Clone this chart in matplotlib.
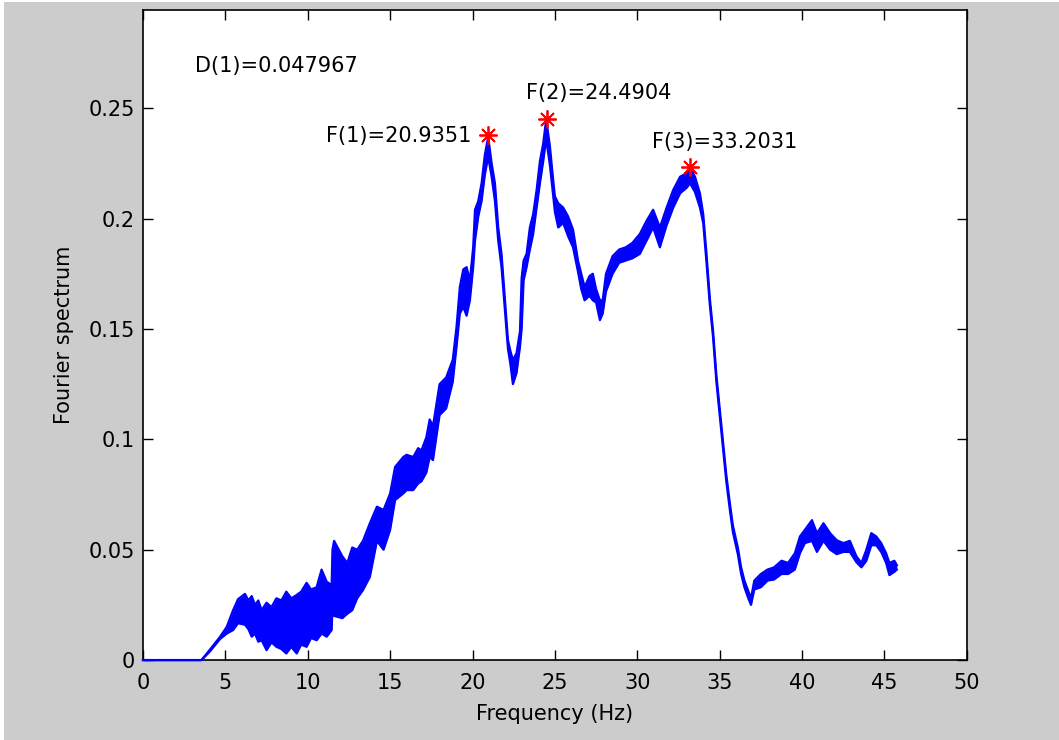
import numpy as np
import matplotlib.pyplot as plt
from matplotlib.patches import Rectangle

# spectrum: frequency, upper and lower edge of the noisy trace
freq = [0.0, 3.55, 4.07, 4.67, 5.08, 5.47, 5.77, 6.19, 6.4, 6.6, 6.8, 7.0, 7.2, 7.5, 7.8,
        8.1, 8.4, 8.7, 9.0, 9.33, 9.6, 9.93, 10.2, 10.54, 10.84, 11.15, 11.45, 11.5, 11.6,
        12.1, 12.4, 12.7, 13.0, 13.35, 13.77, 14.2, 14.6, 15.0, 15.3, 15.8, 16.0, 16.4,
        16.7, 16.9, 17.2, 17.4, 17.6, 18.0, 18.4, 18.8, 19.03, 19.23, 19.44, 19.64, 19.84,
        20.04, 20.15, 20.35, 20.55, 20.75, 20.95, 21.16, 21.36, 21.56, 21.76, 21.97, 22.15,
        22.3, 22.45, 22.67, 22.88, 22.98, 23.1, 23.28, 23.48, 23.68, 23.89, 24.09, 24.29,
        24.47, 24.7, 24.9, 25.0, 25.2, 25.5, 25.8, 26.1, 26.4, 26.6, 26.8, 27.1, 27.3, 27.5,
        27.73, 27.9, 28.1, 28.5, 28.9, 29.3, 29.7, 30.15, 30.56, 30.96, 31.37, 31.78, 32.18,
        32.6, 33.0, 33.2, 33.5, 33.8, 34.0, 34.2, 34.4, 34.6, 34.8, 35.0, 35.2, 35.4, 35.6,
        35.8, 36.1, 36.3, 36.5, 36.7, 36.9, 37.1, 37.5, 37.9, 38.3, 38.75, 39.15, 39.56,
        39.87, 40.17, 40.6, 40.9, 41.3, 41.7, 42.1, 42.5, 42.9, 43.3, 43.6, 43.9, 44.2,
        44.5, 44.8, 45.1, 45.3, 45.6, 45.75]
upper = [0, 0, 0.0048, 0.0105, 0.015, 0.0226, 0.0276, 0.030, 0.027, 0.029, 0.025, 0.027,
         0.0226, 0.026, 0.024, 0.028, 0.027, 0.031, 0.028, 0.0295, 0.031, 0.035, 0.032,
         0.033, 0.041, 0.0355, 0.034, 0.050, 0.054, 0.047, 0.044, 0.051, 0.050, 0.054,
         0.062, 0.0695, 0.068, 0.0755, 0.0875, 0.092, 0.093, 0.092, 0.096, 0.095, 0.101,
         0.109, 0.106, 0.125, 0.128, 0.136, 0.151, 0.169, 0.177, 0.178, 0.172, 0.187,
         0.204, 0.208, 0.216, 0.229, 0.237, 0.225, 0.216, 0.196, 0.184, 0.163, 0.145,
         0.140, 0.136, 0.139, 0.149, 0.173, 0.181, 0.184, 0.196, 0.202, 0.213, 0.226,
         0.234, 0.245, 0.2325, 0.217, 0.210, 0.207, 0.205, 0.201, 0.195, 0.181, 0.175,
         0.169, 0.174, 0.175, 0.168, 0.163, 0.163, 0.175, 0.183, 0.186, 0.187, 0.189,
         0.193, 0.199, 0.204, 0.196, 0.205, 0.213, 0.219, 0.2205, 0.223, 0.219, 0.2115,
         0.202, 0.184, 0.164, 0.149, 0.129, 0.114, 0.099, 0.084, 0.072, 0.061, 0.051,
         0.042, 0.036, 0.032, 0.028, 0.036, 0.039, 0.041, 0.042, 0.045, 0.044, 0.0484,
         0.056, 0.059, 0.0634, 0.0575, 0.062, 0.0575, 0.0543, 0.053, 0.054, 0.047, 0.044,
         0.050, 0.0575, 0.056, 0.053, 0.0484, 0.044, 0.045, 0.043]
lower = [0, 0, 0.0040, 0.0095, 0.012, 0.0136, 0.0167, 0.016, 0.014, 0.0106, 0.012, 0.0083,
         0.009, 0.0045, 0.008, 0.006, 0.005, 0.003, 0.006, 0.003, 0.007, 0.006, 0.010,
         0.009, 0.012, 0.0106, 0.0136, 0.024, 0.020, 0.019, 0.021, 0.0226, 0.028, 0.0317,
         0.0377, 0.054, 0.050, 0.059, 0.0725, 0.0755, 0.077, 0.077, 0.080, 0.081, 0.085,
         0.092, 0.0906, 0.111, 0.114, 0.126, 0.142, 0.157, 0.160, 0.156, 0.163, 0.178,
         0.190, 0.201, 0.208, 0.220, 0.228, 0.219, 0.208, 0.190, 0.178, 0.158, 0.141,
         0.134, 0.125, 0.130, 0.142, 0.150, 0.172, 0.178, 0.186, 0.193, 0.205, 0.216,
         0.226, 0.236, 0.224, 0.210, 0.203, 0.196, 0.198, 0.192, 0.187, 0.176, 0.168,
         0.163, 0.165, 0.163, 0.162, 0.154, 0.157, 0.167, 0.175, 0.180, 0.181, 0.182,
         0.184, 0.190, 0.196, 0.187, 0.197, 0.205, 0.2115, 0.214, 0.216, 0.212, 0.205,
         0.198, 0.180, 0.161, 0.146, 0.126, 0.111, 0.096, 0.081, 0.069, 0.058, 0.048,
         0.039, 0.033, 0.0287, 0.025, 0.032, 0.033, 0.036, 0.0365, 0.039, 0.039, 0.041,
         0.0484, 0.053, 0.054, 0.049, 0.054, 0.050, 0.048, 0.049, 0.049, 0.0443, 0.042,
         0.045, 0.052, 0.052, 0.049, 0.044, 0.0385, 0.040, 0.041]

peak_f = [20.9351, 24.4904, 33.2031]
peak_v = [0.2378, 0.2452, 0.2234]
damping = 0.047967

plt.rcParams['font.family'] = 'DejaVu Sans'
plt.rcParams['font.size'] = 15

fig = plt.figure(figsize=(10.59, 7.40), dpi=100, facecolor='#cccccc')
# thin white strip on the left and top edge, like the screenshot
fig.add_artist(Rectangle((0, 0), 4 / 1059, 1, transform=fig.transFigure, color='white', lw=0))
fig.add_artist(Rectangle((0, 1 - 2 / 740), 1, 2 / 740, transform=fig.transFigure, color='white', lw=0))
ax = fig.add_axes([0.135, 0.108, 0.778, 0.8785])

ax.fill_between(freq, lower, upper, color='#0000ff', lw=0, zorder=3)
ax.plot(freq, upper, color='#0000ff', lw=1.6, zorder=3, clip_on=False)
ax.plot(freq, lower, color='#0000ff', lw=1.6, zorder=3, clip_on=False)

ax.plot(peak_f, peak_v, ls='none', marker=(8, 2, 0), ms=13, mew=1.3, color='red', zorder=5)

ax.text(19.94, 0.2373, 'F(1)=%.4f' % peak_f[0], ha='right', va='center')
ax.text(23.24, 0.257, 'F(2)=%.4f' % peak_f[1], ha='left', va='center')
ax.text(30.9, 0.2347, 'F(3)=%.4f' % peak_f[2], ha='left', va='center')
ax.text(3.16, 0.269, 'D(1)=%.6f' % damping, ha='left', va='center')

ax.set_xlim(0, 50)
ax.set_ylim(0, 0.2945)
ax.set_xticks(np.arange(0, 51, 5))
ax.set_yticks([0, 0.05, 0.1, 0.15, 0.2, 0.25])
ax.set_yticklabels(['0', '0.05', '0.1', '0.15', '0.2', '0.25'])
ax.tick_params(direction='in', length=7, width=1, top=True, right=True)
ax.tick_params(axis='x', pad=9)
ax.tick_params(axis='y', pad=6)
for s in ax.spines.values():
    s.set_linewidth(1.2)

ax.set_xlabel('Frequency (Hz)', labelpad=8)
ax.set_ylabel('Fourier spectrum', labelpad=10)

fig.savefig('out.png', dpi=100, facecolor=fig.get_facecolor())
